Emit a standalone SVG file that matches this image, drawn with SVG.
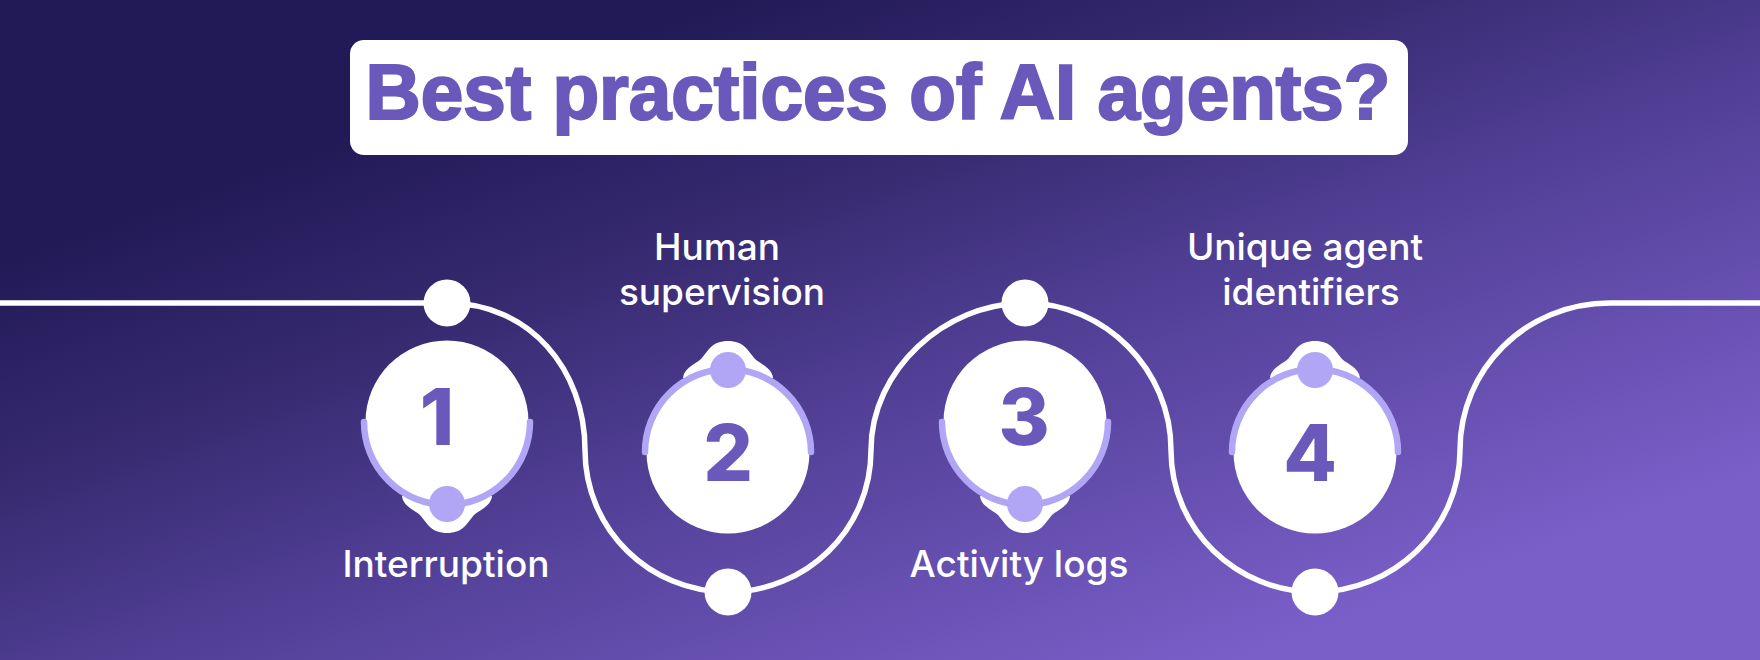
<svg xmlns="http://www.w3.org/2000/svg" width="1760" height="660" viewBox="0 0 1760 660">
<style>
.line{fill:none;stroke:#fff;stroke-width:5.5}
.w{fill:#fff}
.arc{fill:none;stroke:#b1a6f6;stroke-width:6.5;stroke-linecap:round}
.dot{fill:#b1a6f6}
.num{font-family:Inter,"Liberation Sans",sans-serif;font-weight:800;font-size:78px;fill:#6a58bb;text-anchor:middle}
.lbl{font-family:Inter,"Open Sans",sans-serif;font-weight:500;font-size:37px;fill:#fff;text-anchor:middle}
.title{font-family:"Liberation Sans",Arial,sans-serif;font-weight:700;font-size:77px;fill:#6a58bb;stroke:#6a58bb;stroke-width:2.2;text-anchor:middle}
</style>
<defs>
<linearGradient id="bg" gradientUnits="userSpaceOnUse" x1="760" y1="-10" x2="1030" y2="740">
<stop offset="0" stop-color="#221a57"/>
<stop offset="0.26" stop-color="#372a70"/>
<stop offset="0.56" stop-color="#54429a"/>
<stop offset="1" stop-color="#7a5fc9"/>
</linearGradient>
<g id="badge">
<path class="w" d="M-45 74 C-44 84 -34 87 -27 93 L-19 103 C-14 109 -7 111 0 111 C7 111 14 109 19 103 L27 93 C34 87 44 84 45 74 Z"/>
<circle class="w" r="81.5"/>
<path class="arc" d="M-83 0 A83 83 0 0 0 83 0"/>
<circle class="dot" cy="82" r="18"/>
</g>
</defs>
<rect width="1760" height="660" fill="url(#bg)"/>
<g id="connectors">
<path class="line" d="M0 303 H447 C530 303 585 370 585 450 C585 530 650 592 728 592 C806 592 871 530 871 450 C871 370 945 303 1025 303 C1105 303 1171 370 1171 450 C1171 530 1237 592 1315 592 C1393 592 1460 530 1460 450 C1460 370 1525 303 1610 303 H1760"/>
</g>
<g id="title">
<rect class="w" x="350" y="40" width="1058" height="115" rx="14"/>
<text class="title" x="878" y="119" textLength="1025" lengthAdjust="spacingAndGlyphs">Best practices of AI agents?</text>
</g>
<g id="node-1">
<circle class="w" cx="447" cy="303" r="23.5"/>
<use href="#badge" transform="translate(447 422)"/>
<text class="num" x="437" y="445">1</text>
<text class="lbl" x="446" y="577">Interruption</text>
</g>
<g id="node-2">
<circle class="w" cx="728" cy="592" r="23.5"/>
<use href="#badge" transform="translate(728 452) scale(1 -1)"/>
<text class="num" x="728" y="481">2</text>
<text class="lbl" x="717" y="260">Human</text>
<text class="lbl" x="722" y="305">supervision</text>
</g>
<g id="node-3">
<circle class="w" cx="1025" cy="303" r="23.5"/>
<use href="#badge" transform="translate(1025 422)"/>
<text class="num" x="1024" y="445">3</text>
<text class="lbl" x="1019" y="577">Activity logs</text>
</g>
<g id="node-4">
<circle class="w" cx="1315" cy="592" r="23.5"/>
<use href="#badge" transform="translate(1315 452) scale(1 -1)"/>
<text class="num" x="1310" y="481">4</text>
<text class="lbl" x="1305" y="260">Unique agent</text>
<text class="lbl" x="1311" y="305">identifiers</text>
</g>
</svg>
